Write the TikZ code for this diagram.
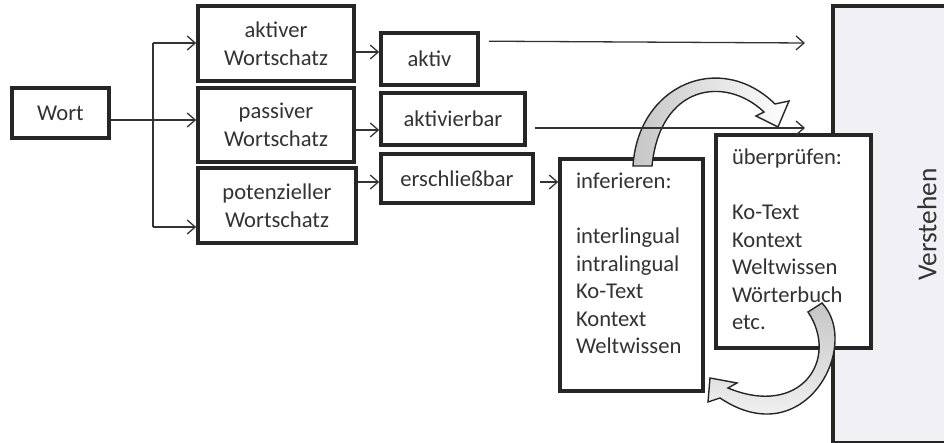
\documentclass[tikz,border=0pt]{standalone}
\usepackage{fontspec}
\setmainfont{Carlito}
\usepackage{tikz}
\usetikzlibrary{arrows.meta,calc,positioning}
\definecolor{verstFill}{RGB}{240,240,245}
\newcommand{\boxfont}{\fontsize{11.3pt}{13.75pt}\selectfont}
\newcommand{\bigfont}{\fontsize{13.7pt}{16pt}\selectfont}

\begin{document}
\begin{tikzpicture}
[x=0.5pt,y=-0.5pt,
frame/.style={draw=black!85,line width=1.8pt,fill=white,text=black!80,
  font=\boxfont},
box/.style={frame,align=center,inner sep=0pt},
listbox/.style={frame,inner xsep=8pt,inner ysep=7pt},
conn/.style={draw=black!80,line width=0.65pt},
arr/.style={conn,-{Straight Barb[length=4pt,width=7pt]}},
bendarrow/.style={draw=black!85,line width=0.7pt}]
\path[use as bounding box,clip] (0,0) rectangle (944,443);

\node (verstehen) [frame,fill=verstFill,rotate=90,font=\bigfont,
  minimum width=218.5pt,minimum height=94pt] at (927,224.5) {Verstehen};

\node (wort) [box,minimum width=48.5pt,minimum height=25pt] at (60.5,113) {Wort};
\node (aktWs) [box,minimum width=78pt,minimum height=37.5pt] at (276,43.5)
  {aktiver\\Wortschatz};
\node (pasWs) [box,minimum width=78pt,minimum height=37pt] at (276,125)
  {passiver\\Wortschatz};
\node (potWs) [box,minimum width=79pt,minimum height=37.5pt] at (277,205.5)
  {potenzieller\\Wortschatz};

\node (aktiv) [box,minimum width=48.5pt,minimum height=26pt] at (429.5,59) {aktiv};
\node (aktivierbar) [box,minimum width=72pt,minimum height=26pt] at (453,119)
  {aktivierbar};
\node (erschl) [box,minimum width=76pt,minimum height=24.5pt] at (457,178.5)
  {erschließbar};

\node (infer) [listbox] at (631.5,275)
  {\parbox[c][102pt][t]{55.5pt}{inferieren:\\[\baselineskip]interlingual\\
   intralingual\\Ko-Text\\Kontext\\Weltwissen}};
\node (pruef) [listbox] at (793.5,241.5)
  {\parbox[c][92.5pt][t]{61.5pt}{überprüfen:\\[\baselineskip]Ko-Text\\
   Kontext\\Weltwissen\\Wörterbuch\\etc.}};

% Wort -> three kinds of Wortschatz
\coordinate (split) at (153,120);
\coordinate (trunkTop) at (153,43);
\coordinate (trunkBot) at (153,227);
\draw[conn] (wort.east |- split) -- (split);
\draw[conn] (trunkTop) -- (trunkBot);
\draw[arr] (trunkTop) -- (aktWs.west |- trunkTop);
\draw[arr] (split) -- (pasWs.west |- split);
\draw[arr] (trunkBot) -- (potWs.west |- trunkBot);

\draw[arr] ($(aktWs.east)+(0,8.5)$) coordinate (a1) -- (aktiv.west |- a1);
\draw[arr] ($(pasWs.east)+(0,5)$) coordinate (a2) -- (aktivierbar.west |- a2);
\draw[arr] ($(potWs.east)+(0,-23.5)$) coordinate (a3) -- (erschl.west |- a3);
\draw[arr] ($(erschl.east)+(5,3.5)$) coordinate (a4) -- (infer.west |- a4);

% bent block arrows
\draw[bendarrow,left color=gray!45,right color=white]
  (633,166) .. controls (638,85) and (720,50) .. (775,104)
  -- (789,101) -- (778,127) -- (756,116) -- (764,112)
  .. controls (725,75) and (660,85) .. (652,166) -- cycle;
\draw[bendarrow,top color=gray!45,bottom color=white]
  (822,303) .. controls (862,345) and (805,455) .. (720,398)
  -- (708,402) -- (710,378) -- (737,383) -- (728,388)
  .. controls (800,418) and (840,360) .. (808,312) -- cycle;

% straight on to Verstehen
\coordinate (endA) at (805,43);
\coordinate (endB) at (805,128);
\draw[arr] ($(aktiv.north east)+(9,10)$) coordinate (a5) -- (endA);
\draw[arr] ($(aktivierbar.east)+(8,9)$) coordinate (a6) -- (endB);
\end{tikzpicture}
\end{document}
